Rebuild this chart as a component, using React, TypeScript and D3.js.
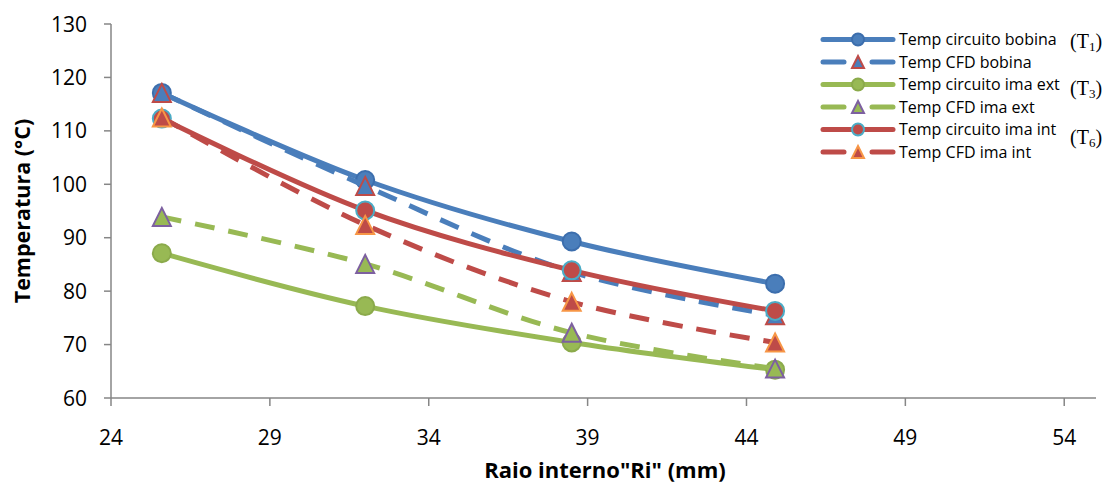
import React from "react";
import * as d3 from "d3";

const xRi = [25.6, 32.0, 38.5, 44.9];
const circBobina = [117.1, 100.8, 89.3, 81.4];
const cfdBobina = [117.1, 99.7, 83.6, 75.5];
const circImaExt = [87.1, 77.2, 70.4, 65.3];
const cfdImaExt = [93.9, 85.1, 72.2, 65.5];
const circImaInt = [112.3, 95.1, 83.9, 76.3];
const cfdImaInt = [112.5, 92.4, 78.0, 70.4];

const yTicks = [60, 70, 80, 90, 100, 110, 120, 130];
const xTicks = [24, 29, 34, 39, 44, 49, 54];

const seriesNames = [
  "Temp circuito bobina",
  "Temp CFD bobina",
  "Temp circuito ima ext",
  "Temp CFD ima ext",
  "Temp circuito ima int",
  "Temp CFD ima int",
];

type S = {
  name: string;
  values: number[];
  color: string;
  dashed: boolean;
  marker: "circle" | "triangle";
  mFill: string;
  mStroke: string;
};

const series: S[] = [
  { name: seriesNames[0], values: circBobina, color: "#4A7EBB", dashed: false, marker: "circle", mFill: "#4A7EBB", mStroke: "#3C6EAD" },
  { name: seriesNames[1], values: cfdBobina, color: "#4A7EBB", dashed: true, marker: "triangle", mFill: "#4A7EBB", mStroke: "#BE4B48" },
  { name: seriesNames[2], values: circImaExt, color: "#98B954", dashed: false, marker: "circle", mFill: "#98B954", mStroke: "#8BAA4B" },
  { name: seriesNames[3], values: cfdImaExt, color: "#98B954", dashed: true, marker: "triangle", mFill: "#98B954", mStroke: "#7D60A0" },
  { name: seriesNames[4], values: circImaInt, color: "#BE4B48", dashed: false, marker: "circle", mFill: "#BE4B48", mStroke: "#4BACC6" },
  { name: seriesNames[5], values: cfdImaInt, color: "#BE4B48", dashed: true, marker: "triangle", mFill: "#BE4B48", mStroke: "#F79646" },
];

const W = 1105;
const H = 484;
const x = d3.scaleLinear().domain([24, 55]).range([111, 1096]);
const y = d3.scaleLinear().domain([60, 130]).range([398, 24]);

const axisColor = "#868686";
const font = "'Open Sans', 'Noto Sans', sans-serif";
const dash = "20 14";

function Marker({ kind, cx, cy, fill, stroke, size }: { kind: string; cx: number; cy: number; fill: string; stroke: string; size: number }) {
  if (kind === "circle") {
    return <circle cx={cx} cy={cy} r={size / 2} fill={fill} stroke={stroke} strokeWidth={2} />;
  }
  const h = size / 2;
  const pts = `${cx},${cy - h} ${cx + h},${cy + h} ${cx - h},${cy + h}`;
  return <polygon points={pts} fill={fill} stroke={stroke} strokeWidth={2} strokeLinejoin="miter" />;
}

export default function App() {
  const line = d3
    .line<number>()
    .x((_, i) => x(xRi[i]))
    .y((v) => y(v))
    .curve(d3.curveCatmullRom.alpha(0.5));

  const legendX0 = 823;
  const legendX1 = 893;
  const legendMX = 858;
  const legendY0 = 39.5;
  const legendDY = 22.5;

  return (
    <svg width={W} height={H} style={{ position: "absolute", left: 0, top: 0, background: "#fff" }}>
      <rect width={W} height={H} fill="#fff" />
      {/* axes */}
      <line x1={111} x2={111} y1={y(130)} y2={y(60)} stroke={axisColor} strokeWidth={1.5} />
      <line x1={x(24)} x2={x(55)} y1={y(60)} y2={y(60)} stroke={axisColor} strokeWidth={1.5} />
      {yTicks.map((t) => (
        <g key={"y" + t}>
          <line x1={104} x2={111} y1={y(t)} y2={y(t)} stroke={axisColor} strokeWidth={1.5} />
          <text x={87} y={y(t)} dy="0.36em" textAnchor="end" fontFamily={font} fontSize={21} fill="#000">
            {t}
          </text>
        </g>
      ))}
      {xTicks.map((t) => (
        <g key={"x" + t}>
          <line x1={x(t)} x2={x(t)} y1={398} y2={406} stroke={axisColor} strokeWidth={1.5} />
          <text x={x(t)} y={437} dy="0.36em" textAnchor="middle" fontFamily={font} fontSize={21} fill="#000">
            {t}
          </text>
        </g>
      ))}
      <text
        transform={`translate(22,211) rotate(-90)`}
        textAnchor="middle"
        dy="0.36em"
        fontFamily={font}
        fontWeight="bold"
        fontSize={21.5}
        fill="#000"
      >
        Temperatura (°C)
      </text>
      <text x={605} y={470} dy="0.36em" textAnchor="middle" fontFamily={font} fontWeight="bold" fontSize={22} fill="#000">
        Raio interno"Ri" (mm)
      </text>

      {/* series */}
      {series.map((s) => (
        <g key={s.name}>
          <path
            d={line(s.values) || ""}
            fill="none"
            stroke={s.color}
            strokeWidth={5}
            strokeDasharray={s.dashed ? dash : undefined}
            strokeLinecap={s.dashed ? "butt" : "round"}
          />
          {s.values.map((v, i) => (
            <Marker key={i} kind={s.marker} cx={x(xRi[i])} cy={y(v)} fill={s.mFill} stroke={s.mStroke} size={18} />
          ))}
        </g>
      ))}

      {/* legend */}
      {series.map((s, i) => {
        const ly = legendY0 + i * legendDY;
        return (
          <g key={"lg" + i}>
            {s.dashed ? (
              <>
                <line x1={legendX0} x2={legendX0 + 21} y1={ly} y2={ly} stroke={s.color} strokeWidth={5} strokeLinecap="round" />
                <line x1={legendX1 - 21} x2={legendX1} y1={ly} y2={ly} stroke={s.color} strokeWidth={5} strokeLinecap="round" />
              </>
            ) : (
              <line x1={legendX0} x2={legendX1} y1={ly} y2={ly} stroke={s.color} strokeWidth={5} strokeLinecap="round" />
            )}
            <Marker kind={s.marker} cx={legendMX} cy={ly} fill={s.mFill} stroke={s.mStroke} size={12} />
            <text x={899} y={ly} dy="0.36em" fontFamily={font} fontSize={16} fill="#000">
              {s.name}
            </text>
          </g>
        );
      })}

      {/* annotations */}
      {[
        { sub: "1", yy: 41 },
        { sub: "3", yy: 88 },
        { sub: "6", yy: 137 },
      ].map((a) => (
        <text key={a.sub} x={1070} y={a.yy} dy="0.35em" fontFamily="'Liberation Serif', 'DejaVu Serif', serif" fontSize={20} fill="#000">
          (T<tspan fontSize={13} dy="3">{a.sub}</tspan>
          <tspan dy="-3">)</tspan>
        </text>
      ))}
    </svg>
  );
}
